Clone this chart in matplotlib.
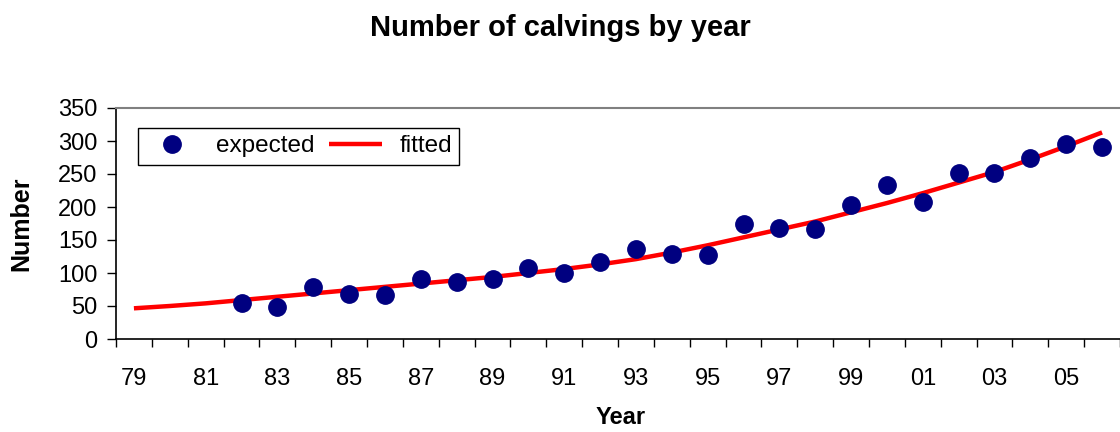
import matplotlib
matplotlib.use("Agg")
import matplotlib.pyplot as plt
import numpy as np

plt.rcParams['font.family'] = ['Liberation Sans', 'DejaVu Sans']

years = ["79", "80", "81", "82", "83", "84", "85", "86", "87", "88", "89", "90", "91", "92",
         "93", "94", "95", "96", "97", "98", "99", "00", "01", "02", "03", "04", "05", "06"]
expected = [np.nan, np.nan, np.nan, 54, 49, 79, 68, 66, 91, 87, 91, 107, 100, 116,
            136, 129, 127, 175, 168, 167, 203, 234, 208, 252, 252, 275, 296, 291]
fitted = [46.5, 50, 54, 59, 64, 69, 74, 79, 84, 89, 94, 100, 106, 113,
          121, 131, 142, 154, 166, 178, 192, 206, 221, 237, 253, 272, 292, 313]

W, H = 1120, 432
fig = plt.figure(figsize=(W / 100, H / 100), dpi=100)
left_px, right_px, top_px, bot_px = 116, 1120, 108, 339
ax = fig.add_axes([left_px / W, (H - bot_px) / H, (right_px - left_px) / W, (bot_px - top_px) / H])

x = np.arange(len(years))
ax.plot(x, fitted, color='#FF0000', lw=3.2, label='fitted', zorder=2, solid_capstyle='butt')
ax.plot(x, expected, linestyle='none', marker='o', markersize=12.5, color='#000080',
        label='expected', zorder=3)

cat_w = 36.07
ax.set_xlim(-0.5, -0.5 + (right_px - left_px) / cat_w)
ax.set_ylim(0, 350)
ax.set_yticks(np.arange(0, 351, 50))

ax.set_xticks(np.arange(-0.5, len(years) + 0.5, 1.0))
ax.set_xticklabels([])
ax.set_xticks(x[::2], minor=True)
ax.set_xticklabels(years[::2], minor=True)
ax.tick_params(axis='x', which='major', direction='out', length=6, width=1, color='black')
ax.tick_params(axis='x', which='minor', length=0, pad=21, labelsize=17)
ax.tick_params(axis='y', direction='out', length=6.5, width=1, pad=7, labelsize=17)

for s in ['left', 'bottom']:
    ax.spines[s].set_color('black')
    ax.spines[s].set_linewidth(1.2)
ax.spines['top'].set_color('#808080')
ax.spines['top'].set_linewidth(1.5)
ax.spines['right'].set_visible(False)

ax.set_ylabel('Number', fontsize=18, fontweight='bold')
ax.yaxis.set_label_coords((33 - left_px) / (right_px - left_px), 0.5)
ax.set_xlabel('Year', fontsize=17, fontweight='bold')
ax.xaxis.set_label_coords((621 - left_px) / (right_px - left_px), -(418 - bot_px) / (bot_px - top_px))
ax.xaxis.label.set_verticalalignment('center')
fig.text(560 / W, 1 - 28 / H, 'Number of calvings by year', ha='center', va='center',
         fontsize=21, fontweight='bold')

handles, labels = ax.get_legend_handles_labels()
leg = ax.legend([handles[1], handles[0]], [labels[1], labels[0]], ncol=2,
                loc='upper left', bbox_to_anchor=((138 - left_px) / (right_px - left_px), (bot_px - 128) / (bot_px - top_px)),
                fontsize=17.5, frameon=True, fancybox=False, edgecolor='black', framealpha=1,
                handlelength=2.2, handletextpad=0.7, columnspacing=0.6, borderpad=0.3,
                borderaxespad=0)
leg.get_frame().set_linewidth(1.0)

fig.savefig('out.png', dpi=100)
